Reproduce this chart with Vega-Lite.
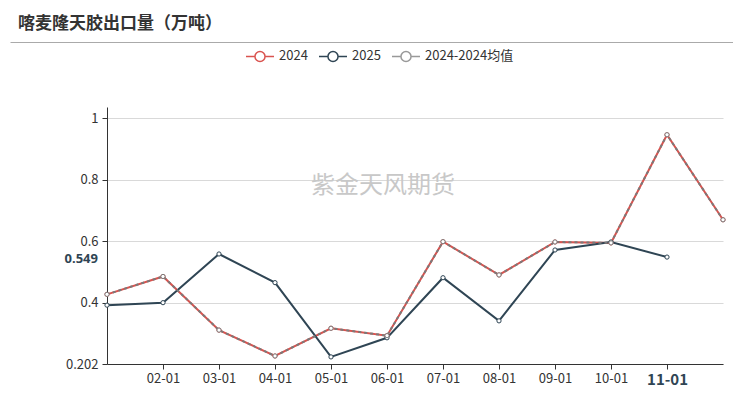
{
  "$schema": "https://vega.github.io/schema/vega-lite/v6.json",
  "width": 616,
  "height": 257,
  "autosize": {"type": "none"},
  "padding": {"left": 107, "top": 107, "right": 10, "bottom": 40},
  "background": "white",
  "config": {
    "view": {"stroke": null},
    "font": "Noto Sans CJK SC"
  },
  "title": {
    "text": "喀麦隆天胶出口量（万吨）",
    "anchor": "start",
    "frame": "group",
    "dx": -89,
    "offset": 8,
    "fontSize": 17,
    "fontWeight": "bold",
    "color": "#333333",
    "font": "Noto Sans CJK SC"
  },
  "datasets": {
    "main": [
      {"month": "01-01", "series": "2024", "value": 0.428},
      {"month": "02-01", "series": "2024", "value": 0.486},
      {"month": "03-01", "series": "2024", "value": 0.312},
      {"month": "04-01", "series": "2024", "value": 0.228},
      {"month": "05-01", "series": "2024", "value": 0.318},
      {"month": "06-01", "series": "2024", "value": 0.294},
      {"month": "07-01", "series": "2024", "value": 0.599},
      {"month": "08-01", "series": "2024", "value": 0.491},
      {"month": "09-01", "series": "2024", "value": 0.598},
      {"month": "10-01", "series": "2024", "value": 0.595},
      {"month": "11-01", "series": "2024", "value": 0.946},
      {"month": "12-01", "series": "2024", "value": 0.670},
      {"month": "01-01", "series": "2025", "value": 0.393},
      {"month": "02-01", "series": "2025", "value": 0.401},
      {"month": "03-01", "series": "2025", "value": 0.559},
      {"month": "04-01", "series": "2025", "value": 0.466},
      {"month": "05-01", "series": "2025", "value": 0.225},
      {"month": "06-01", "series": "2025", "value": 0.287},
      {"month": "07-01", "series": "2025", "value": 0.482},
      {"month": "08-01", "series": "2025", "value": 0.342},
      {"month": "09-01", "series": "2025", "value": 0.572},
      {"month": "10-01", "series": "2025", "value": 0.598},
      {"month": "11-01", "series": "2025", "value": 0.549},
      {"month": "01-01", "series": "2024-2024均值", "value": 0.428},
      {"month": "02-01", "series": "2024-2024均值", "value": 0.486},
      {"month": "03-01", "series": "2024-2024均值", "value": 0.312},
      {"month": "04-01", "series": "2024-2024均值", "value": 0.228},
      {"month": "05-01", "series": "2024-2024均值", "value": 0.318},
      {"month": "06-01", "series": "2024-2024均值", "value": 0.294},
      {"month": "07-01", "series": "2024-2024均值", "value": 0.599},
      {"month": "08-01", "series": "2024-2024均值", "value": 0.491},
      {"month": "09-01", "series": "2024-2024均值", "value": 0.598},
      {"month": "10-01", "series": "2024-2024均值", "value": 0.595},
      {"month": "11-01", "series": "2024-2024均值", "value": 0.946},
      {"month": "12-01", "series": "2024-2024均值", "value": 0.670}
    ]
  },
  "resolve": {"scale": {"x": "independent"}, "axis": {"x": "independent"}},
  "layer": [
    {
      "layer": [
        {
          "data": {"name": "main"},
          "transform": [{"filter": "datum.series != '2024-2024均值'"}],
          "mark": {"type": "line", "strokeWidth": 2},
          "encoding": {
            "x": {
              "field": "month",
              "type": "ordinal",
              "sort": null,
              "scale": {"type": "point", "padding": 0},
              "axis": {
                "title": null,
                "labelAngle": 0,
                "labelExpr": "datum.value == '01-01' || datum.value == '12-01' ? '' : datum.value",
                "labelFontSize": {"condition": {"test": "datum.value == '11-01'", "value": 15}, "value": 13},
                "labelFontWeight": {"condition": {"test": "datum.value == '11-01'", "value": "bold"}, "value": "normal"},
                "labelColor": {"condition": {"test": "datum.value == '11-01'", "value": "#2f4554"}, "value": "#333333"},
                "tickOpacity": {"condition": {"test": "datum.value == '01-01' || datum.value == '12-01'", "value": 0}, "value": 1},
                "domainColor": "#333333",
                "tickColor": "#333333",
                "tickSize": 5,
                "labelPadding": 3,
                "grid": false,
                "labelFont": "Noto Sans CJK SC"
              }
            },
            "y": {
              "field": "value",
              "type": "quantitative",
              "scale": {"domain": [0.202, 1.036], "nice": false, "zero": false},
              "axis": {
                "title": null,
                "values": [0.202, 0.4, 0.6, 0.8, 1],
                "labelExpr": "toString(datum.value)",
                "labelFontSize": 13,
                "labelColor": "#333333",
                "domainColor": "#333333",
                "tickColor": "#333333",
                "tickSize": 5,
                "labelPadding": 4,
                "gridColor": "#d9d9d9",
                "labelFont": "Noto Sans CJK SC"
              }
            },
            "color": {
              "field": "series",
              "type": "nominal",
              "scale": {"domain": ["2024", "2025", "2024-2024均值"], "range": ["#d9534f", "#2f4554", "#999999"]},
              "legend": {
                "title": null,
                "orient": "none",
                "legendX": 138,
                "legendY": -66,
                "direction": "horizontal",
                "symbolType": "M-1,0L-0.36,0M0.36,0L1,0M0.36,0A0.36,0.36,0,1,1,-0.36,0A0.36,0.36,0,1,1,0.36,0",
                "symbolSize": 784,
                "symbolStrokeWidth": 1.5,
                "labelFontSize": 13,
                "labelColor": "#333333",
                "labelOffset": 4,
                "columnPadding": 8,
                "labelFont": "Noto Sans CJK SC"
              }
            }
          }
        },
        {
          "data": {"name": "main"},
          "transform": [{"filter": "datum.series == '2024-2024均值'"}],
          "mark": {"type": "line", "strokeWidth": 2, "strokeDash": [3, 3], "stroke": "#7a7a7a"},
          "encoding": {
            "x": {"field": "month", "type": "ordinal", "sort": null},
            "y": {"field": "value", "type": "quantitative"}
          }
        },
        {
          "data": {"name": "main"},
          "mark": {"type": "point", "filled": true, "fill": "white", "size": 18, "strokeWidth": 1, "opacity": 1},
          "encoding": {
            "x": {"field": "month", "type": "ordinal", "sort": null},
            "y": {"field": "value", "type": "quantitative"},
            "stroke": {
              "field": "series",
              "type": "nominal",
              "scale": {"domain": ["2024", "2025", "2024-2024均值"], "range": ["#d9534f", "#2f4554", "#7a7a7a"]},
              "legend": null
            }
          }
        },
        {
          "data": {"values": [{"month": "06-01", "v": 0.78, "t": "紫金天风期货"}]},
          "mark": {"type": "text", "fontSize": 24, "color": "#c8c8c8", "dx": -4, "font": "Noto Sans CJK SC"},
          "encoding": {
            "x": {"field": "month", "type": "ordinal"},
            "y": {"field": "v", "type": "quantitative"},
            "text": {"field": "t"}
          }
        },
        {
          "data": {"values": [{"month": "01-01", "v": 0.549, "t": "0.549"}]},
          "mark": {"type": "text", "fontSize": 13, "fontWeight": "bold", "color": "#2f4554", "align": "right", "dx": -9, "dy": 2, "font": "Noto Sans"},
          "encoding": {
            "x": {"field": "month", "type": "ordinal"},
            "y": {"field": "v", "type": "quantitative"},
            "text": {"field": "t"}
          }
        }
      ]
    },
    {
      "data": {"values": [{"p": 0}, {"p": 1}]},
      "mark": {"type": "point", "opacity": 0},
      "encoding": {
        "x": {
          "field": "p",
          "type": "quantitative",
          "scale": {"domain": [0, 1], "range": [-97, 626], "nice": false, "zero": false},
          "axis": {
            "orient": "top",
            "offset": 65,
            "title": null,
            "labels": false,
            "ticks": false,
            "grid": false,
            "domainColor": "#aaaaaa",
            "domainWidth": 1
          }
        }
      }
    }
  ]
}
